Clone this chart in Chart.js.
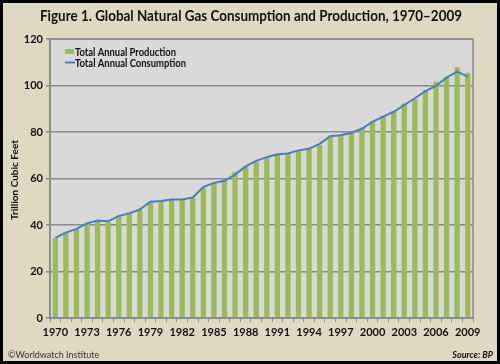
<!DOCTYPE html>
<html>
<head>
<meta charset="utf-8">
<script src="https://cdn.jsdelivr.net/npm/chart.js@4/dist/chart.umd.min.js"></script>
<style>
  html, body { margin: 0; padding: 0; background: #ddd9c3; }
  #wrap { width: 500px; height: 364px; position: relative; }
  canvas { display: block; }
</style>
</head>
<body>
<div id="wrap"><canvas id="gas" width="500" height="364"></canvas></div>
<script>
const years = ['1970', '1971', '1972', '1973', '1974', '1975', '1976', '1977', '1978', '1979',
  '1980', '1981', '1982', '1983', '1984', '1985', '1986', '1987', '1988', '1989',
  '1990', '1991', '1992', '1993', '1994', '1995', '1996', '1997', '1998', '1999',
  '2000', '2001', '2002', '2003', '2004', '2005', '2006', '2007', '2008', '2009'];

// trillion cubic feet
const production = [34.3, 36.7, 38.3, 40.4, 41.7, 41.1, 43.6, 45.3, 46.7, 50.0,
  50.0, 50.8, 51.0, 51.5, 56.0, 57.7, 59.0, 62.9, 65.2, 67.2,
  69.3, 70.2, 70.4, 72.1, 72.7, 74.4, 78.5, 78.3, 80.1, 81.9,
  84.7, 86.9, 88.7, 92.3, 94.2, 97.8, 101.6, 103.8, 107.8, 105.5];
const consumption = [34.5, 36.7, 38.3, 40.7, 41.9, 41.6, 43.9, 45.0, 46.7, 50.0,
  50.3, 51.0, 51.0, 51.8, 56.3, 58.1, 59.0, 61.7, 65.2, 67.6,
  69.2, 70.4, 70.8, 72.1, 72.8, 74.9, 78.2, 78.6, 79.7, 81.4,
  84.4, 86.6, 88.7, 91.6, 94.5, 97.6, 99.8, 103.4, 106.0, 103.8];
const shownYears = ['1970', '1973', '1976', '1979', '1982', '1985', '1988', '1991',
  '1994', '1997', '2000', '2003', '2006', '2009'];
const yTicks = [0, 20, 40, 60, 80, 100, 120];

const FONT = 'Lato, "Open Sans", sans-serif';
const colors = {
  page: '#ddd9c3',
  plot: '#d9d9d9',
  grid: '#8a8a8a',
  bar: '#9bbb59',
  line: '#4a7ebb',
  text: '#111111',
};

// background, frame and plot fill
const backdrop = {
  id: 'backdrop',
  beforeDraw(chart) {
    const { ctx, chartArea: a, width, height } = chart;
    ctx.save();
    ctx.fillStyle = colors.page;
    ctx.fillRect(0, 0, width, height);
    ctx.fillStyle = colors.plot;
    ctx.fillRect(a.left, a.top, a.right - a.left, a.bottom - a.top);
    ctx.restore();
  },
  afterDraw(chart) {
    const { ctx, chartArea: a, width, height } = chart;
    ctx.save();
    // plot border
    ctx.strokeStyle = colors.grid;
    ctx.lineWidth = 1.5;
    ctx.strokeRect(a.left, a.top, a.right - a.left, a.bottom - a.top);
    // outer black frame
    ctx.strokeStyle = '#000';
    ctx.lineWidth = 3;
    ctx.strokeRect(1.5, 1.5, width - 3, height - 3);

    // title
    ctx.fillStyle = colors.text;
    ctx.textAlign = 'center';
    ctx.textBaseline = 'middle';
    ctx.font = 'bold 15px ' + FONT;
    ctx.fillText('Figure 1. Global Natural Gas Consumption and Production, 1970\u20132009', 251, 16, 422);

    // y axis title
    ctx.save();
    ctx.translate(15, 180);
    ctx.rotate(-Math.PI / 2);
    ctx.font = 'bold 10px ' + FONT;
    ctx.fillText('Trillion Cubic Feet', 0, 0, 96);
    ctx.restore();

    // legend
    const ds = chart.data.datasets;
    ctx.textAlign = 'left';
    ctx.font = 'bold 11px ' + FONT;
    ctx.fillStyle = colors.bar;
    ctx.fillRect(65, 49, 9, 5);
    ctx.strokeStyle = colors.line;
    ctx.lineWidth = 2;
    ctx.beginPath();
    ctx.moveTo(65, 62.5);
    ctx.lineTo(75, 62.5);
    ctx.stroke();
    ctx.fillStyle = colors.text;
    ctx.fillText(ds[0].label, 75, 52, 101);
    ctx.fillText(ds[1].label, 75, 63, 111);

    // footer
    ctx.font = '9px ' + FONT;
    ctx.fillStyle = '#333';
    ctx.fillText('\u00a9Worldwatch Institute', 8, 355);
    ctx.textAlign = 'right';
    ctx.font = 'italic bold 9px ' + FONT;
    ctx.fillStyle = colors.text;
    ctx.fillText('Source: BP', 493, 355);
    ctx.restore();
  }
};

new Chart(document.getElementById('gas'), {
  data: {
    labels: years,
    datasets: [
      {
        type: 'bar',
        label: 'Total Annual Production',
        data: production,
        backgroundColor: colors.bar,
        borderWidth: 0,
        barPercentage: 0.5,
        categoryPercentage: 1,
        order: 1
      },
      {
        type: 'line',
        label: 'Total Annual Consumption',
        data: consumption,
        borderColor: colors.line,
        borderWidth: 2,
        pointRadius: 0,
        tension: 0,
        order: 0
      }
    ]
  },
  options: {
    responsive: false,
    animation: false,
    devicePixelRatio: 1,
    layout: { padding: { left: 0, top: 39, right: 27, bottom: 26 } },
    plugins: {
      legend: { display: false },
      tooltip: { enabled: false }
    },
    scales: {
      x: {
        type: 'category',
        offset: true,
        afterFit(scale) { scale.height = 20; },
        grid: {
          offset: true,
          drawOnChartArea: false,
          color: colors.grid,
          tickLength: 4,
          lineWidth: 1
        },
        border: { color: colors.grid, width: 1.5 },
        ticks: {
          autoSkip: false,
          maxRotation: 0,
          padding: 4,
          color: colors.text,
          font: { family: FONT, size: 11, weight: 'bold' },
          callback(val) {
            const label = this.getLabelForValue(val);
            return shownYears.includes(label) ? label : '';
          }
        }
      },
      y: {
        min: yTicks[0],
        max: yTicks[yTicks.length - 1],
        afterFit(scale) { scale.width = 50; },
        afterBuildTicks(scale) { scale.ticks = yTicks.map(v => ({ value: v })); },
        grid: {
          color: colors.grid,
          lineWidth: 1.5,
          tickLength: 4
        },
        border: { color: colors.grid, width: 1.5 },
        ticks: {
          padding: 3,
          color: colors.text,
          font: { family: FONT, size: 11, weight: 'bold' }
        }
      }
    }
  },
  plugins: [backdrop]
});
</script>
</body>
</html>
